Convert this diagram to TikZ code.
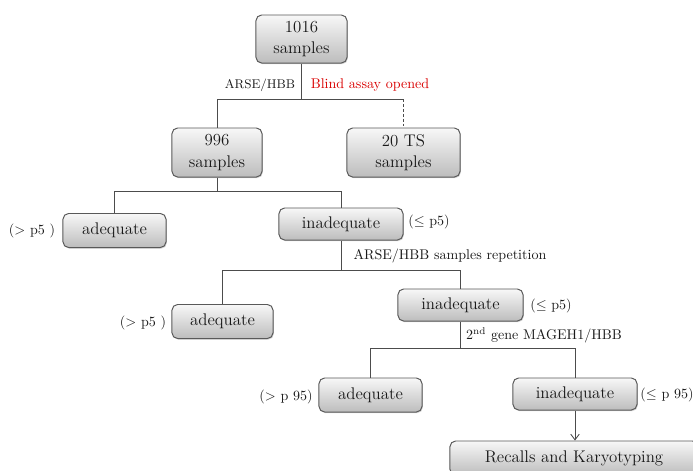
\documentclass[tikz,border=0pt]{standalone}
\usepackage{amssymb}
\usetikzlibrary{arrows.meta,shadows}
\begin{document}
\begin{tikzpicture}[x=0.025cm, y=-0.025cm, >={Straight Barb[length=4pt,width=6pt]},
  box/.style={draw=black!65, line width=0.7pt, rounded corners=4pt, top color=gray!6, bottom color=gray!52,
    drop shadow={shadow xshift=0.6pt, shadow yshift=-0.8pt, opacity=0.35},
    font=\fontsize{12}{15}\selectfont, align=center, inner sep=0pt, minimum height=0.85cm, text=black!90},
  lbl/.style={font=\fontsize{10}{12}\selectfont, inner sep=0pt, text=black!90},
  link/.style={draw=black!70, line width=0.6pt}]
\useasboundingbox (0,0) rectangle (693,470);
\clip (0,0) rectangle (693,470);
% boxes
\node[box, minimum width=2.275cm, minimum height=1.2cm] (all) at (301.5,39) {1016\\samples};
\node[box, minimum width=2.25cm, minimum height=1.225cm] (main) at (217,152.5) {996\\samples};
\node[box, minimum width=2.825cm, minimum height=1.225cm] (ts) at (403.5,152.5) {20 TS\\samples};
\node[box, minimum width=2.575cm] (adeA) at (114.5,230.5) {adequate};
\node[box, minimum width=3.1cm, minimum height=0.8cm] (inadA) at (341,224) {inadequate};
\node[box, minimum width=2.525cm] (adeB) at (222.5,321.5) {adequate};
\node[box, minimum width=3.125cm, minimum height=0.8cm] (inadB) at (460.5,305) {inadequate};
\node[box, minimum width=2.575cm] (adeC) at (370.5,395) {adequate};
\node[box, minimum width=3.1cm, minimum height=0.8cm] (inadC) at (575,394) {inadequate};
\node[box, minimum width=6.2cm] (recall) at (574,458) {Recalls and Karyotyping};
% labels
\node[lbl, font=\fontsize{9}{11}\selectfont] (arse) at (260,85) {ARSE/HBB};
\node[lbl, text=red!85!black] (blind) at (370,85) {Blind assay opened};
\node[lbl] (gtA) at (32,231) {($>$ p5 )};
\node[lbl] (leA) at (429,222) {($\leq$ p5)};
\node[lbl] (rep) at (450,256) {ARSE/HBB samples repetition};
\node[lbl] (gtB) at (143,323) {($>$ p5 )};
\node[lbl] (leB) at (551,306) {($\leq$ p5)};
\node[lbl] (gene) at (544,335) {2\textsuperscript{nd} gene MAGEH1/HBB};
\node[lbl] (gtC) at (286,397) {($>$ p 95)};
\node[lbl] (leC) at (667,395) {($\leq$ p 95)};
% junctions
\coordinate (jA) at (301.5,99);
\coordinate (jB) at (217,191);
\coordinate (jC) at (341,270);
\coordinate (jD) at (460.5,348);
\coordinate (jTS) at (jA -| ts.north);
% connectors
\draw[link] (all) -- (jA) -| (main);
\draw[link] (jA) -- (jTS);
\draw[link, dash pattern=on 2pt off 1.5pt] (jTS) -- (ts);
\draw[link] (main) -- (jB);
\draw[link] (jB) -| (adeA);
\draw[link] (jB) -| (inadA);
\draw[link] (inadA) -- (jC);
\draw[link] (jC) -| (adeB);
\draw[link] (jC) -| (inadB);
\draw[link] (inadB) -- (jD);
\draw[link] (jD) -| (adeC);
\draw[link] (jD) -| (inadC);
\draw[link, ->] (inadC.south) -- (inadC.south |- recall.north);
\end{tikzpicture}
\end{document}
